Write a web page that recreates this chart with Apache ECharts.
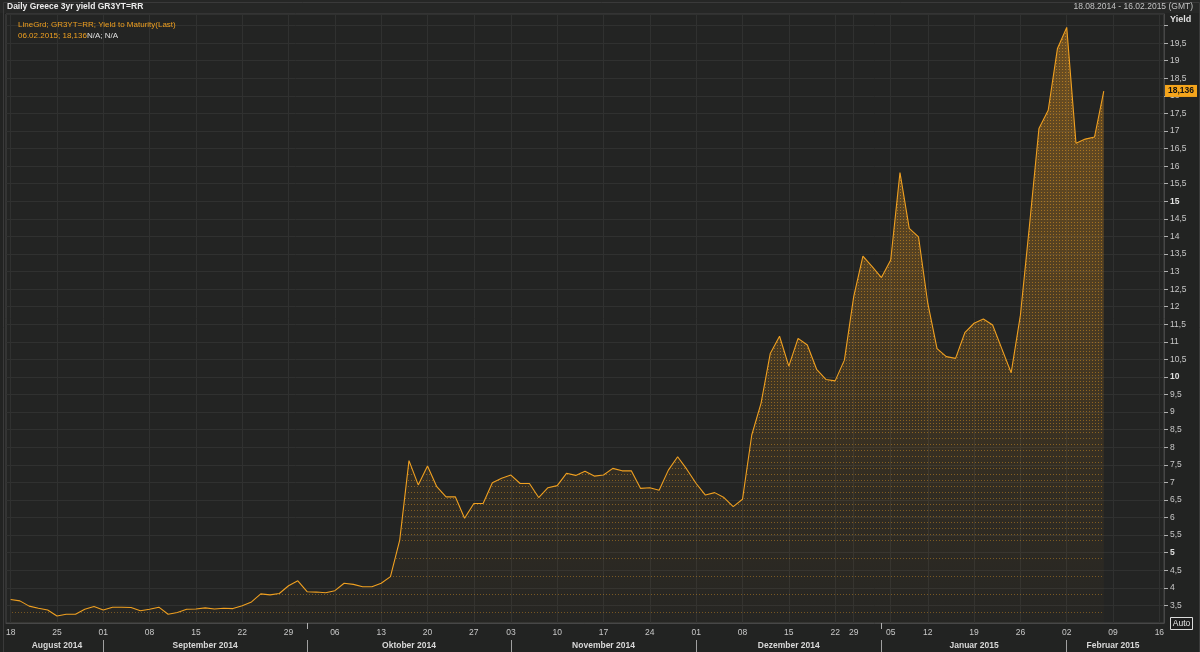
<!DOCTYPE html>
<html><head><meta charset="utf-8">
<script src="https://cdn.jsdelivr.net/npm/echarts@6/dist/echarts.min.js"></script>
<style>html,body{margin:0;padding:0;background:#222322}#c{width:1200px;height:652px}</style>
</head><body><div id="c"></div>
<script>
// Trading days (Athens) shown on the axis
const categories = [
'2014-08-18','2014-08-19','2014-08-20','2014-08-21','2014-08-22','2014-08-25','2014-08-26','2014-08-27','2014-08-28','2014-08-29',
'2014-09-01','2014-09-02','2014-09-03','2014-09-04','2014-09-05','2014-09-08','2014-09-09','2014-09-10','2014-09-11','2014-09-12',
'2014-09-15','2014-09-16','2014-09-17','2014-09-18','2014-09-19','2014-09-22','2014-09-23','2014-09-24','2014-09-25','2014-09-26',
'2014-09-29','2014-09-30',
'2014-10-01','2014-10-02','2014-10-03','2014-10-06','2014-10-07','2014-10-08','2014-10-09','2014-10-10','2014-10-13','2014-10-14',
'2014-10-15','2014-10-16','2014-10-17','2014-10-20','2014-10-21','2014-10-22','2014-10-23','2014-10-24','2014-10-27','2014-10-29',
'2014-10-30','2014-10-31',
'2014-11-03','2014-11-04','2014-11-05','2014-11-06','2014-11-07','2014-11-10','2014-11-11','2014-11-12','2014-11-13','2014-11-14',
'2014-11-17','2014-11-18','2014-11-19','2014-11-20','2014-11-21','2014-11-24','2014-11-25','2014-11-26','2014-11-27','2014-11-28',
'2014-12-01','2014-12-02','2014-12-03','2014-12-04','2014-12-05','2014-12-08','2014-12-09','2014-12-10','2014-12-11','2014-12-12',
'2014-12-15','2014-12-16','2014-12-17','2014-12-18','2014-12-19','2014-12-22','2014-12-23','2014-12-29','2014-12-30','2014-12-31',
'2015-01-02','2015-01-05','2015-01-07','2015-01-08','2015-01-09','2015-01-12','2015-01-13','2015-01-14','2015-01-15','2015-01-16',
'2015-01-19','2015-01-20','2015-01-21','2015-01-22','2015-01-23','2015-01-26','2015-01-27','2015-01-28','2015-01-29','2015-01-30',
'2015-02-02','2015-02-03','2015-02-04','2015-02-05','2015-02-06','2015-02-09','2015-02-10','2015-02-11','2015-02-12','2015-02-13',
'2015-02-16'
];
// Yield to maturity (last)
const yieldValues = [
3.67,3.63,3.48,3.42,3.37,3.20,3.25,3.25,3.39,3.47,
3.37,3.45,3.45,3.44,3.35,3.39,3.45,3.25,3.30,3.39,
3.40,3.43,3.40,3.42,3.41,3.49,3.60,3.83,3.80,3.84,
4.06,4.20,3.89,3.88,3.86,3.92,4.13,4.10,4.03,4.03,
4.13,4.32,5.36,7.62,6.93,7.47,6.88,6.59,6.59,5.98,
6.40,6.40,6.99,7.12,7.21,6.97,6.97,6.57,6.85,6.91,
7.26,7.20,7.32,7.18,7.21,7.40,7.33,7.33,6.83,6.85,
6.78,7.35,7.73,7.37,6.97,6.64,6.71,6.57,6.31,6.52,
8.35,9.25,10.67,11.16,10.31,11.10,10.91,10.22,9.93,9.89,
10.48,12.28,13.44,13.14,12.83,13.33,15.82,14.23,13.99,12.10,
10.81,10.58,10.53,11.26,11.53,11.65,11.48,10.80,10.12,11.76,
14.37,17.07,17.59,19.35,19.95,16.65,16.77,16.83,18.136
];
const monthNames = ['Januar','Februar','März','April','Mai','Juni','Juli','August','September','Oktober','November','Dezember'];
const lastValue = 18.136;
const lastDate = '06.02.2015';
const titleText = 'Daily Greece 3yr yield GR3YT=RR';
const rangeText = '18.08.2014 - 16.02.2015 (GMT)';
const legendText = 'LineGrd; GR3YT=RR; Yield to Maturity(Last)';
const yMin = 3, yMax = 20.33, yStep = 0.5;

const FONT = '"Liberation Sans", Arial, sans-serif';
const fmtNum = v => String(v).replace('.', ',');
const isMonday = d => new Date(d + 'T00:00:00Z').getUTCDay() === 1;

const monthStarts = [];
categories.forEach((d, i) => { if (i > 0 && d.slice(5, 7) !== categories[i - 1].slice(5, 7)) monthStarts.push(i); });
const bounds = [-0.5, ...monthStarts, categories.length - 0.5];
const monthLabelAt = {};
for (let k = 0; k < bounds.length - 1; k++) {
  const c = Math.round((bounds[k] + bounds[k + 1]) / 2);
  const d = categories[Math.ceil(bounds[k])];
  monthLabelAt[c] = monthNames[+d.slice(5, 7) - 1] + ' ' + d.slice(0, 4);
}

function makeDots() {
  const c = document.createElement('canvas');
  c.width = 3; c.height = 652;
  const g = c.getContext('2d');
  for (let y = 0; y < 652; y += 3) {
    if (y > 430 && y % 6 !== 0) continue;
    if (y > 540 && y % 9 !== 0) continue;
    const t = Math.min(1, Math.max(0, (y - 14) / 609));
    g.fillStyle = 'rgba(245,165,35,' + (0.75 - 0.2 * t) + ')';
    g.fillRect(0, y, 1, 1);
  }
  return c;
}

const chart = echarts.init(document.getElementById('c'), null, { renderer: 'canvas' });
chart.setOption({
  animation: false,
  backgroundColor: '#222322',
  textStyle: { fontFamily: FONT },
  grid: { left: 6, right: 36, top: 14, bottom: 29, show: true, backgroundColor: '#232423', borderColor: '#474747', borderWidth: 1 },
  xAxis: [{
    type: 'category', data: categories, boundaryGap: true,
    axisLine: { show: true, lineStyle: { color: '#474747' } },
    axisTick: { show: true, alignWithLabel: true, length: 6, interval: i => monthStarts.includes(i) && !isMonday(categories[i]), lineStyle: { color: '#b0b0b0' } },
    axisLabel: { interval: (i, v) => isMonday(v), formatter: v => v.slice(8), color: '#c8c8c8', fontSize: 8.5, margin: 5, fontFamily: FONT },
    splitLine: { show: true, alignWithLabel: true, interval: (i, v) => isMonday(v), lineStyle: { color: '#303130' } }
  }, {
    type: 'category', data: categories, boundaryGap: true, position: 'bottom', offset: 17,
    axisLine: { show: false },
    axisTick: { show: true, alignWithLabel: true, length: 13, interval: i => monthStarts.includes(i), lineStyle: { color: '#a0a0a0' } },
    axisLabel: { interval: i => (i in monthLabelAt), formatter: (v, i) => monthLabelAt[i] || '', color: '#d8d8d8', fontWeight: 'bold', fontSize: 8.5, margin: 1, fontFamily: FONT },
    splitLine: { show: false }
  }],
  yAxis: {
    type: 'value', position: 'right', min: yMin, max: yMax, interval: yStep,
    axisLine: { show: true, lineStyle: { color: '#474747' } },
    axisTick: { show: true, length: 4, lineStyle: { color: '#b0b0b0' } },
    axisLabel: {
      showMaxLabel: false, showMinLabel: false, margin: 6, color: '#c8c8c8', fontSize: 8.5, fontFamily: FONT,
      formatter: v => (v < 3.4 || v > 19.6) ? '' : (v % 5 === 0 ? '{b|' + fmtNum(v) + '}' : fmtNum(v)),
      rich: { b: { fontWeight: 'bold', color: '#e0e0e0', fontSize: 8.5, fontFamily: FONT } }
    },
    splitLine: { show: true, lineStyle: { color: '#303130' } }
  },
  series: [{
    type: 'line', data: yieldValues, symbol: 'none', silent: true, z: 1,
    lineStyle: { color: 'rgba(0,0,0,0)', width: 1 },
    areaStyle: { origin: 'start', color: { type: 'linear', x: 0, y: 14, x2: 0, y2: 623, global: true, colorStops: [
      { offset: 0, color: 'rgba(232,150,30,0.55)' },
      { offset: 0.4, color: 'rgba(232,150,30,0.36)' },
      { offset: 0.75, color: 'rgba(232,150,30,0.12)' },
      { offset: 1, color: 'rgba(232,150,30,0.02)' }] } }
  }, {
    type: 'line', data: yieldValues, symbol: 'none', silent: true, z: 2,
    lineStyle: { color: '#f0a020', width: 1.1 },
    areaStyle: { origin: 'start', color: { image: makeDots(), repeat: 'repeat' } },
    markLine: {
      silent: true, symbol: 'none', animation: false,
      lineStyle: { color: 'rgba(0,0,0,0)', width: 0 },
      data: [{ yAxis: lastValue }],
      label: { show: true, position: 'end', distance: 1, formatter: fmtNum(lastValue), backgroundColor: '#f5a51c', color: '#111', fontWeight: 'bold', fontSize: 8.5, padding: [2, 3, 1, 3], fontFamily: FONT }
    }
  }],
  graphic: [
    { type: 'rect', left: 0, top: 0, shape: { width: 1200, height: 13 }, style: { fill: '#262726' }, silent: true, z: -1 },
    { type: 'text', left: 7, top: 2, z: 100, style: { text: titleText, fill: '#ececec', font: 'bold 8.5px ' + FONT } },
    { type: 'text', right: 7, top: 2, z: 100, style: { text: rangeText, fill: '#c4c4c4', font: '8.5px ' + FONT } },
    { type: 'text', left: 18, top: 21, z: 100, style: { text: legendText, fill: '#f0a020', font: '8px ' + FONT } },
    { type: 'text', left: 18, top: 32, z: 100, style: { text: '{o|' + lastDate + '; ' + fmtNum(lastValue) + '}{w|N/A; N/A}', rich: { o: { fill: '#f0a020', font: '8px ' + FONT }, w: { fill: '#e0e0e0', font: '8px ' + FONT } } } },
    { type: 'text', left: 1170, top: 15, z: 100, style: { text: 'Yield', fill: '#e0e0e0', font: 'bold 9px ' + FONT } },
    { type: 'group', left: 1170, top: 617, z: 100, children: [
      { type: 'rect', shape: { x: 0, y: 0, width: 22, height: 12 }, style: { fill: '#1e1e1e', stroke: '#dcdcdc', lineWidth: 1 } },
      { type: 'text', x: 11, y: 6.5, style: { text: 'Auto', fill: '#e6e6e6', font: '8.5px ' + FONT, align: 'center', verticalAlign: 'middle' } }
    ] },
    { type: 'rect', left: 1, top: 0, shape: { x: 0.5, y: 0.5, width: 1196, height: 650 }, style: { fill: 'none', stroke: '#3a3a3a', lineWidth: 1 }, silent: true }
  ]
});
</script>
</body></html>
